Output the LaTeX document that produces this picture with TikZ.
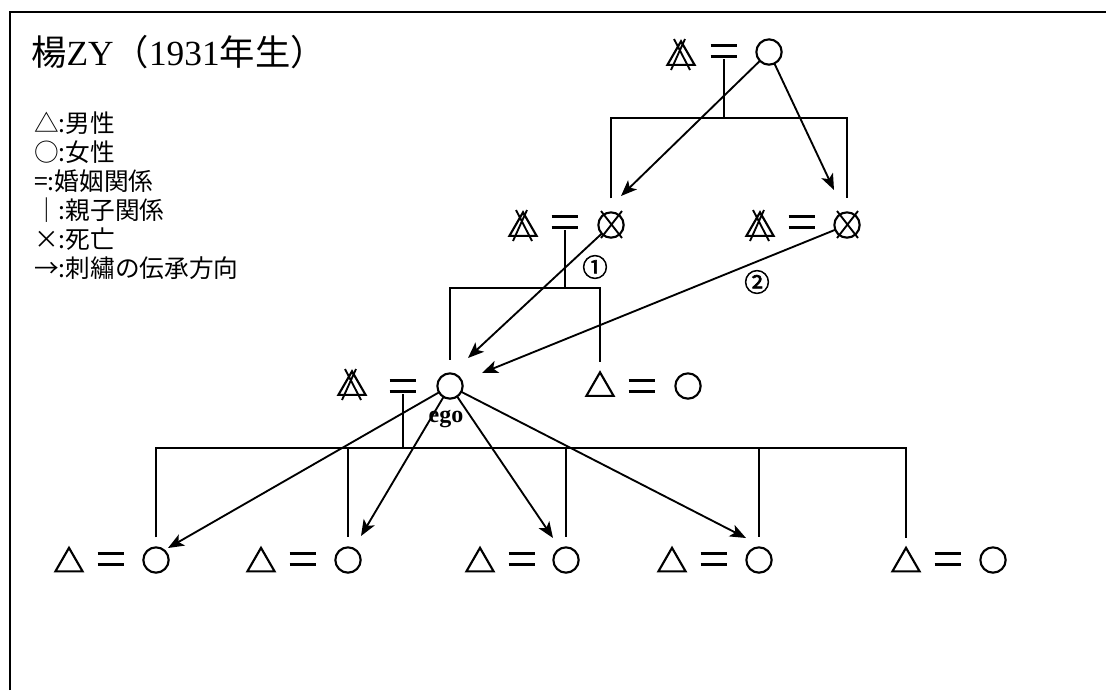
\documentclass[tikz,border=0pt]{standalone}
\usepackage{fontspec}
\usetikzlibrary{arrows.meta,shapes.geometric}
\newfontfamily\jp{Noto Sans CJK JP}
\newfontfamily\jpb{Noto Sans CJK JP}[FakeBold=2.5]
\newfontfamily\tnr{Liberation Serif}
\newcommand\xtrimark[1]{\draw[xline] ([shift={(-7,-18)}]#1.center) -- ([shift={(9,13)}]#1.center) ([shift={(4,-18)}]#1.center) -- ([shift={(-10,13)}]#1.center);}
\newcommand\xcircmark[1]{\draw[xline] ([shift={(-10,-14)}]#1.center) -- ([shift={(11,13)}]#1.center) ([shift={(11,-14)}]#1.center) -- ([shift={(-10,13)}]#1.center);}
\begin{document}
\begin{tikzpicture}[x=0.75pt,y=-0.75pt,
 sym/.style={draw, line width=1.6pt, inner sep=0pt, outer sep=0pt},
 fem/.style={sym, circle, minimum size=19pt},
 mal/.style={sym, regular polygon, regular polygon sides=3, minimum size=23.5pt},
 eqs/.style={inner sep=0pt, outer sep=0pt, minimum width=20pt, minimum height=12pt,
   path picture={\draw[line width=1.6pt]
     ([yshift=-1.9pt]path picture bounding box.north west) -- ([yshift=-1.9pt]path picture bounding box.north east)
     ([yshift=1.9pt]path picture bounding box.south west) -- ([yshift=1.9pt]path picture bounding box.south east);}},
 conn/.style={line width=1.4pt},
 arr/.style={conn, -{Stealth[length=12pt,width=9.5pt,inset=3pt]}},
 xline/.style={line width=1.4pt},
 lgd/.style={inner sep=0pt, anchor=west, font=\jp\fontsize{18.5pt}{22pt}\selectfont},
 num/.style={inner sep=0pt, font=\jpb\fontsize{19pt}{21pt}\selectfont}
]
\useasboundingbox (0,0) rectangle (1106,690);
% frame
\draw[line width=1.6pt] (10,690) -- (10,12) -- (1106,12);
% title
\node[inner sep=0pt, anchor=west, font=\jp\fontsize{26.5pt}{31pt}\selectfont] (title) at (31,52) {楊{\tnr ZY}（{\tnr 1931}年生）};
% legend
\node[lgd] (l1) at (34,123) {△:男性};
\node[lgd] (l2) at (34,152) {○:女性};
\node[lgd] (l3) at (34,181) {=:婚姻関係};
\node[lgd] (l4) at (34,210) {｜:親子関係};
\node[lgd] (l5) at (34,239) {×:死亡};
\node[lgd] (l6) at (34,268) {→:刺繡の伝承方向};

% generation 0
\node[mal] (m0) at (681,57) {};
\node[eqs] (e0) at (724,51) {};
\node[fem] (f0) at (769,52) {};
\xtrimark{m0}
% generation 1
\node[mal] (m1) at (523,228) {};
\node[eqs] (e1) at (565,222) {};
\node[fem] (f1) at (611,225) {};
\xtrimark{m1}\xcircmark{f1}
\node[mal] (m2) at (760,228) {};
\node[eqs] (e1b) at (802,222) {};
\node[fem] (f2) at (847,225) {};
\xtrimark{m2}\xcircmark{f2}
% generation 2
\node[mal] (m3) at (352,387) {};
\node[eqs] (e2) at (403,386) {};
\node[fem] (ego) at (450,386) {};
\xtrimark{m3}
\node[mal] (s3) at (600,388) {};
\node[eqs] (e3) at (642,386) {};
\node[fem] (w3) at (688,386) {};
\node[inner sep=0pt, font=\tnr\bfseries\fontsize{18pt}{20pt}\selectfont] (egolbl) at (446,419) {ego};
% generation 3
\node[mal] (a1) at (69,563.5) {};  \node[eqs] (ae1) at (111,559) {}; \node[fem] (d1) at (156,560) {};
\node[mal] (a2) at (261,563.5) {}; \node[eqs] (ae2) at (303,559) {}; \node[fem] (d2) at (348,560) {};
\node[mal] (a3) at (480,563.5) {}; \node[eqs] (ae3) at (522,559) {}; \node[fem] (d3) at (566,560) {};
\node[mal] (a4) at (672,563.5) {}; \node[eqs] (ae4) at (714,559) {}; \node[fem] (d4) at (759,560) {};
\node[mal] (s5) at (906,563.5) {}; \node[eqs] (ae5) at (948,559) {}; \node[fem] (w5) at (993,560) {};

% descent lines
\coordinate (bus1) at (0,118);
\coordinate (bus2) at (0,288);
\coordinate (bus3) at (0,448);
\draw[conn] (e0.south) -- (e0.south |- bus1);
\draw[conn] ([shift={(0,-14)}]f1.north) -- (f1.north |- bus1) -- (f2.north |- bus1) -- ([shift={(0,-14)}]f2.north);
\draw[conn] (e1.south) -- (e1.south |- bus2);
\draw[conn] ([shift={(0,-13.5)}]ego.north) -- (ego.north |- bus2) -- (s3.north |- bus2) -- ([shift={(0,-10)}]s3.north);
\draw[conn] (e2.south) -- (e2.south |- bus3);
\draw[conn] ([shift={(0,-10)}]d1.north) -- (d1.north |- bus3) -- (s5.north |- bus3) -- ([shift={(0,-10)}]s5.north);
\foreach \n in {d2,d3,d4} \draw[conn] (\n.north |- bus3) -- ([shift={(0,-10)}]\n.north);

% transmission arrows
\coordinate (t1) at (621,196);
\coordinate (t2) at (834,190);
\coordinate (t3) at (468,358);
\coordinate (t4) at (482,373);
\coordinate (c1) at (168,548);
\coordinate (c2) at (361,536);
\coordinate (c3) at (553,538);
\coordinate (c4) at (746,538);
\draw[arr] (f0) -- (t1);
\draw[arr] (f0) -- (t2);
\draw[arr] (f1) -- (t3);
\draw[arr] (f2) -- (t4);
\foreach \c in {c1,c2,c3,c4} \draw[arr] (ego) -- (\c);
\node[num] (n1) at (595,267) {①};
\node[num] (n2) at (757,282) {②};
\end{tikzpicture}
\end{document}
